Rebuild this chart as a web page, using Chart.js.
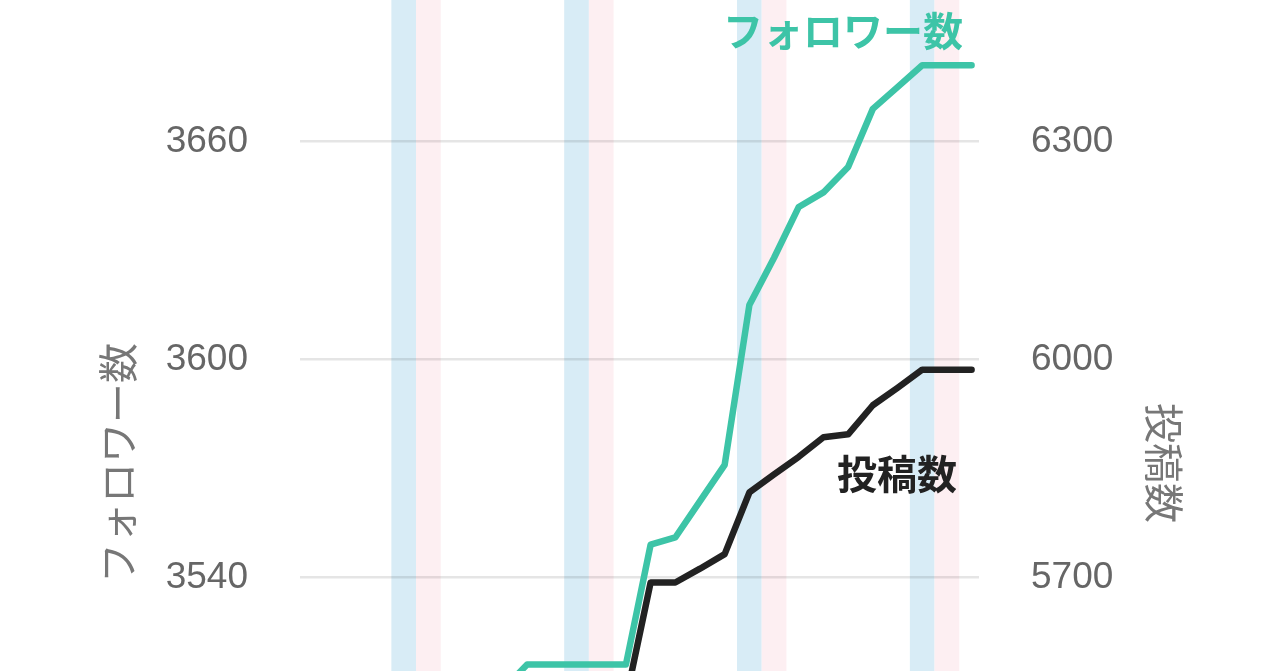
<!DOCTYPE html>
<html>
<head>
<meta charset="utf-8">
<script src="https://cdn.jsdelivr.net/npm/chart.js@4.4.1/dist/chart.umd.min.js"></script>
<style>
    html, body { margin: 0; padding: 0; background: #fff; overflow: hidden; width: 1280px; height: 671px; }
    #wrap { position: absolute; left: 0; top: -90px; width: 1280px; height: 1106px; }
</style>
</head>
<body>
<div id="wrap"><canvas id="myChart" width="1280" height="1106"></canvas></div>
<script>
var dayIndex = [0, 1, 2, 3, 4, 5, 6, 7, 8, 9, 10, 11, 12, 13, 14, 15, 16, 17, 18, 19, 20, 21, 22, 23, 24, 25, 26, 27];
var followers = [3471, 3476, 3480, 3486, 3490, 3495, 3499, 3504, 3509, 3516, 3516, 3516, 3516, 3516,
    3549, 3551, 3561, 3571, 3615, 3628, 3642, 3646, 3653, 3669, 3675, 3681, 3681, 3681];
var posts = [5440, 5447, 5452, 5458, 5463, 5470, 5476, 5483, 5490, 5497, 5505, 5512, 5520, 5532,
    5693, 5693, 5712, 5732, 5817, 5842, 5866, 5893, 5897, 5937, 5961, 5986, 5986, 5986];
var saturdays = [4, 11, 18, 25];
var sundays = [5, 12, 19, 26];
var followerTicks = [3540, 3600, 3660];
var postTicks = [5700, 6000, 6300];

var teal = "#3dc4a7";
var ink = "#222222";
var jpFont = "'Noto Sans CJK JP', sans-serif";

var weekendBands = {
    id: "weekendBands",
    beforeDraw: function (chart) {
        var ctx = chart.ctx;
        var area = chart.chartArea;
        var x = chart.scales.x;
        ctx.save();
        function band(i, color) {
            var x0 = x.getPixelForValue(i - 0.5);
            var x1 = x.getPixelForValue(i + 0.5);
            ctx.fillStyle = color;
            ctx.fillRect(x0, area.top, x1 - x0, area.bottom - area.top);
        }
        saturdays.forEach(function (i) { band(i, "#d8ecf6"); });
        sundays.forEach(function (i) { band(i, "#fdeff2"); });
        ctx.restore();
    },
    afterDatasetsDraw: function (chart) {
        var ctx = chart.ctx;
        var area = chart.chartArea;
        var y = chart.scales.y;
        var y1 = chart.scales.y1;
        ctx.save();
        ctx.textAlign = "right";
        ctx.textBaseline = "middle";
        ctx.font = "bold 40px " + jpFont;
        ctx.fillStyle = teal;
        ctx.fillText("フォロワー数", area.right - 16, y.getPixelForValue(3690.5));
        ctx.fillStyle = ink;
        ctx.fillText("投稿数", area.right - 22, y1.getPixelForValue(5843));
        ctx.restore();
    },
};

// keep the given tick list and the exact min/max from the options
function fixedTicks(list) {
    return function (scale) {
        scale.ticks = list.map(function (v) { return { value: v }; });
        scale.min = scale.options.min;
        scale.max = scale.options.max;
    };
}

// fixed axis width, and no extra room above/below for the tick labels
function fixedWidth(w) {
    return function (scale) {
        scale.width = w;
        scale.paddingTop = 0;
        scale.paddingBottom = 0;
    };
}

var ctx = document.getElementById("myChart").getContext("2d");
var myChart = new Chart(ctx, {
    type: "line",
    data: {
        datasets: [
            {
                label: "フォロワー数",
                data: dayIndex.map(function (d, i) { return { x: d, y: followers[i] }; }),
                borderColor: teal,
                borderWidth: 6.5,
                borderCapStyle: "round",
                borderJoinStyle: "round",
                pointRadius: 0,
                tension: 0,
                yAxisID: "y",
            },
            {
                label: "投稿数",
                data: dayIndex.map(function (d, i) { return { x: d, y: posts[i] }; }),
                borderColor: ink,
                borderWidth: 6.5,
                borderCapStyle: "round",
                borderJoinStyle: "round",
                pointRadius: 0,
                tension: 0,
                yAxisID: "y1",
            },
        ],
    },
    options: {
        responsive: false,
        animation: false,
        layout: { padding: { top: 10, bottom: 10, left: 0, right: 0 } },
        plugins: { legend: { display: false }, tooltip: { enabled: false } },
        scales: {
            x: { type: "linear", display: false, min: -0.2, max: 27.3 },
            y: {
                position: "left",
                bounds: "data",
                min: 3422,
                max: 3721,
                afterBuildTicks: fixedTicks(followerTicks),
                afterFit: fixedWidth(300),
                border: { display: false },
                grid: { color: "rgba(0,0,0,0.1)", lineWidth: 2.5, drawTicks: false },
                ticks: {
                    padding: 52,
                    color: "#666",
                    font: { family: "'Liberation Sans', sans-serif", size: 37 },
                    callback: function (v) { return String(v); },
                },
                title: {
                    display: true,
                    text: "フォロワー数",
                    color: "#777",
                    font: { family: jpFont, size: 40 },
                    padding: { top: 94, bottom: 0 },
                },
            },
            y1: {
                position: "right",
                bounds: "data",
                min: 5110,
                max: 6605,
                afterBuildTicks: fixedTicks(postTicks),
                afterFit: fixedWidth(301),
                border: { display: false },
                grid: { display: false, drawTicks: false },
                ticks: {
                    padding: 52,
                    color: "#666",
                    font: { family: "'Liberation Sans', sans-serif", size: 37 },
                    callback: function (v) { return String(v); },
                },
                title: {
                    display: true,
                    text: "投稿数",
                    color: "#777",
                    font: { family: jpFont, size: 40 },
                    padding: { top: 92, bottom: 0 },
                },
            },
        },
    },
    plugins: [weekendBands],
});
</script>
</body>
</html>
